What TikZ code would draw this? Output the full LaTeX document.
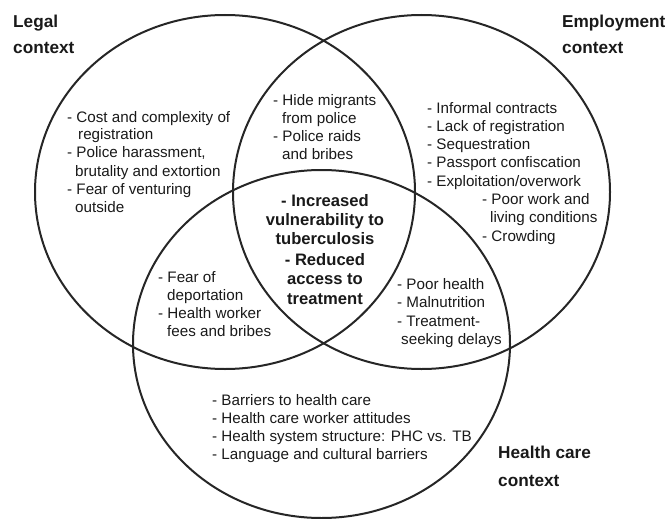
\documentclass[tikz,border=0pt]{standalone}
\usepackage{fontspec}
\setmainfont{Liberation Sans}
\begin{document}
\begin{tikzpicture}[x=1pt,y=-1pt,
  ring/.style={draw=black!85,line width=2pt},
  item/.style={anchor=base west,inner sep=0pt,font=\fontsize{15.2}{18.3}\selectfont,text=black!90},
  core/.style={anchor=base,inner sep=0pt,font=\fontsize{16.6}{19.6}\selectfont\bfseries,text=black!90},
  title/.style={anchor=base west,inner sep=0pt,font=\fontsize{17.2}{27}\selectfont\bfseries,text=black!90}]
\useasboundingbox (0,0) rectangle (669,519);
% circles
\draw[ring] (225,192) ellipse [x radius=190pt, y radius=177pt];
\draw[ring] (421.5,192) ellipse [x radius=188.5pt, y radius=177pt];
\draw[ring] (321.5,344) ellipse [x radius=188.5pt, y radius=174pt];
% titles
\node[title] (t1) at (13,28) {Legal};
\node[title] (t2) at (13,54) {context};
\node[title] (t3) at (562,28) {Employment};
\node[title] (t4) at (562,54) {context};
\node[title] (t5) at (498,458) {Health care};
\node[title] (t6) at (498,486) {context};
% legal only
\node[item] (a1) at (67,122) {- Cost and complexity of};
\node[item] (a2) at (78,139.5) {registration};
\node[item] (a3) at (67,157.5) {- Police harassment,};
\node[item] (a4) at (75,176) {brutality and extortion};
\node[item] (a5) at (67,194) {- Fear of venturing};
\node[item] (a6) at (75,212) {outside};
% legal & employment
\node[item] (b1) at (273,105) {- Hide migrants};
\node[item] (b2) at (282,123) {from police};
\node[item] (b3) at (273,141) {- Police raids};
\node[item] (b4) at (282,159) {and bribes};
% employment only
\node[item] (c1) at (427,113) {- Informal contracts};
\node[item] (c2) at (427,131.3) {- Lack of registration};
\node[item] (c3) at (427,149.6) {- Sequestration};
\node[item] (c4) at (427,167.9) {- Passport confiscation};
\node[item] (c5) at (427,186.2) {- Exploitation/overwork};
\node[item] (c6) at (482,204.5) {- Poor work and};
\node[item] (c7) at (490,222.8) {living conditions};
\node[item] (c8) at (482,241.1) {- Crowding};
% legal & health
\node[item] (d1) at (158,282) {- Fear of};
\node[item] (d2) at (167,300) {deportation};
\node[item] (d3) at (158,318) {- Health worker};
\node[item] (d4) at (167,336) {fees and bribes};
% employment & health
\node[item] (e1) at (397,289.5) {- Poor health};
\node[item] (e2) at (397,307.8) {- Malnutrition};
\node[item] (e3) at (397,326.1) {- Treatment-};
\node[item] (e4) at (401,344.4) {seeking delays};
% health only
\node[item] (f1) at (212,405) {- Barriers to health care};
\node[item] (f2) at (212,423) {- Health care worker attitudes};
\node[item] (f3) at (212,441) {- Health system structure: PHC vs. TB};
\node[item] (f4) at (212,459) {- Language and cultural barriers};
% centre
\node[core] (g1) at (325,206) {- Increased};
\node[core] (g2) at (325,225) {vulnerability to};
\node[core] (g3) at (325,244) {tuberculosis};
\node[core] (g4) at (325,265) {- Reduced};
\node[core] (g5) at (325,284) {access to};
\node[core] (g6) at (325,304) {treatment};
\end{tikzpicture}
\end{document}
